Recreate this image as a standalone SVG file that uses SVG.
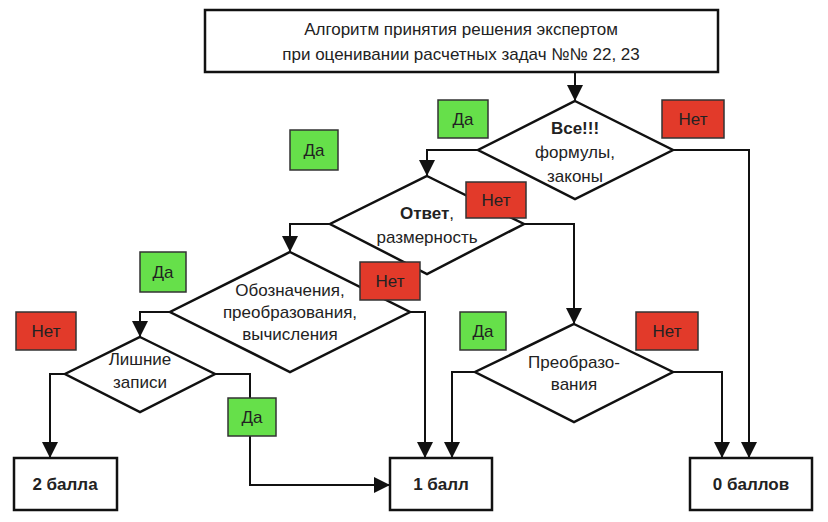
<svg xmlns="http://www.w3.org/2000/svg" width="828" height="522" viewBox="0 0 828 522">
<style>
text{font-family:"Liberation Sans",Arial,sans-serif;font-size:17px;text-anchor:middle;fill:#222}
.s{fill:#fff;stroke:#111;stroke-width:2.5}
.c{fill:none;stroke:#111;stroke-width:2}
.g{fill:#66e04a;stroke:#333;stroke-width:1.5}
.r{fill:#e23a2a;stroke:#333;stroke-width:1.5}
.b{font-weight:bold}
</style>
<defs><marker id="a" viewBox="0 0 10 10" refX="10" refY="5" markerWidth="8" markerHeight="8" orient="auto"><path d="M0,0L10,5L0,10z" fill="#111"/></marker></defs>
<rect width="828" height="522" fill="#fff"/>
<g id="connectors">
<path class="c" d="M575,72V101" marker-end="url(#a)"/>
<path class="c" d="M478,150H427V176" marker-end="url(#a)"/>
<path class="c" d="M673,150H749V458" marker-end="url(#a)"/>
<path class="c" d="M330,224H290V252" marker-end="url(#a)"/>
<path class="c" d="M524,224H574V324" marker-end="url(#a)"/>
<path class="c" d="M170,312H140V337" marker-end="url(#a)"/>
<path class="c" d="M410,312H425V458" marker-end="url(#a)"/>
<path class="c" d="M475,372H452V458" marker-end="url(#a)"/>
<path class="c" d="M673,372H722V458" marker-end="url(#a)"/>
<path class="c" d="M65,374H50V458" marker-end="url(#a)"/>
<path class="c" d="M215,374H250V485H390" marker-end="url(#a)"/>
</g>
<g id="title"><rect class="s" x="205" y="10" width="513" height="62"/><text x="461" y="35">Алгоритм принятия решения экспертом</text><text x="461" y="60">при оценивании расчетных задач №№ 22, 23</text></g>
<g id="d1"><path class="s" d="M575,101L673,150L575,199L478,150z"/><text class="b" x="575" y="134">Все!!!</text><text x="575" y="158">формулы,</text><text x="575" y="182">законы</text></g>
<g id="d2"><path class="s" d="M427,176L524,224L427,274L330,224z"/><text x="427" y="219"><tspan class="b">Ответ</tspan>,</text><text x="427" y="243">размерность</text></g>
<g id="d3"><path class="s" d="M290,252L410,312L290,372L170,312z"/><text x="290" y="296">Обозначения,</text><text x="290" y="318">преобразования,</text><text x="290" y="340">вычисления</text></g>
<g id="d4"><path class="s" d="M574,324L673,372L574,422L475,372z"/><text x="574" y="368">Преобразо-</text><text x="574" y="390">вания</text></g>
<g id="d5"><path class="s" d="M140,337L215,374L140,412L65,374z"/><text x="140" y="365">Лишние</text><text x="140" y="388">записи</text></g>
<g id="b2"><rect class="s" x="14" y="458" width="103" height="52"/><text class="b" x="65" y="490">2 балла</text></g>
<g id="b1"><rect class="s" x="390" y="458" width="102" height="52"/><text class="b" x="441" y="490">1 балл</text></g>
<g id="b0"><rect class="s" x="690" y="458" width="122" height="52"/><text class="b" x="751" y="490">0 баллов</text></g>
<g id="labels">
<rect class="g" x="438" y="100" width="50" height="38"/><text x="463" y="125">Да</text>
<rect class="r" x="662" y="100" width="62" height="38"/><text x="693" y="125">Нет</text>
<rect class="g" x="290" y="130" width="48" height="40"/><text x="314" y="156">Да</text>
<rect class="r" x="466" y="182" width="60" height="36"/><text x="496" y="206">Нет</text>
<rect class="g" x="140" y="252" width="46" height="40"/><text x="163" y="278">Да</text>
<rect class="r" x="360" y="262" width="60" height="38"/><text x="390" y="287">Нет</text>
<rect class="r" x="16" y="312" width="60" height="38"/><text x="46" y="337">Нет</text>
<rect class="g" x="460" y="312" width="46" height="38"/><text x="483" y="337">Да</text>
<rect class="r" x="636" y="312" width="62" height="38"/><text x="667" y="337">Нет</text>
<rect class="g" x="228" y="398" width="48" height="38"/><text x="252" y="423">Да</text>
</g>
</svg>
